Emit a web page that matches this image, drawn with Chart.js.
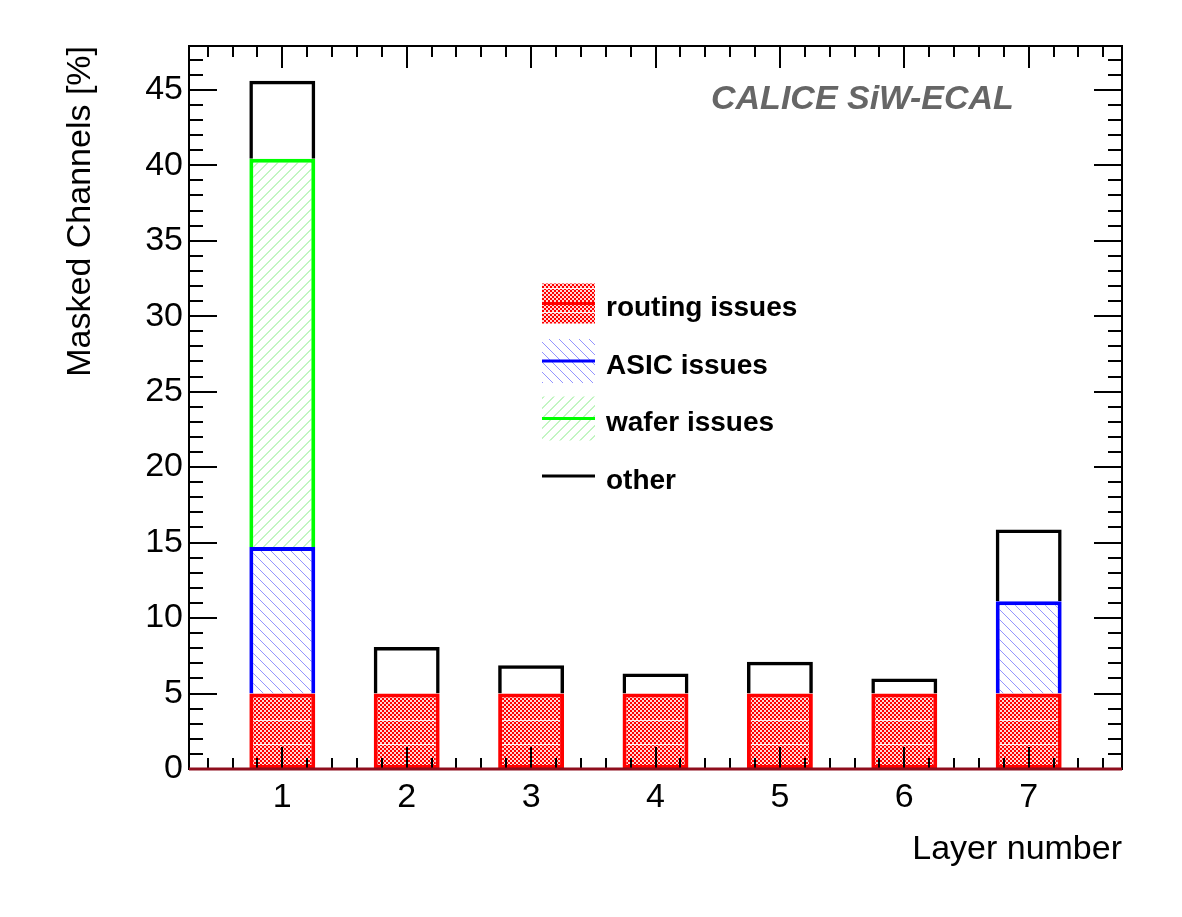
<!DOCTYPE html>
<html>
<head>
<meta charset="utf-8">
<script src="https://cdn.jsdelivr.net/npm/chart.js@4.4.0/dist/chart.umd.min.js"></script>
<style>
  html, body { margin: 0; padding: 0; background: #fff; }
  #wrap { width: 1182px; height: 917px; }
</style>
</head>
<body>
<div id="wrap"><canvas id="chartCanvas" width="1182" height="917"></canvas></div>
<script>
// values (percent of channels per layer)
const layers = [1, 2, 3, 4, 5, 6, 7];
const routingIssues = [5.0, 5.0, 5.0, 5.0, 5.0, 5.0, 5.0];
const asicIssues = [9.7, null, null, null, null, null, 6.12];
const waferIssues = [25.73, null, null, null, null, null, null];
const otherIssues = [5.17, 3.09, 1.88, 1.33, 2.1, 1.0, 4.75];
const xTickValues = [1, 2, 3, 4, 5, 6, 7];
const yTickValues = [0, 5, 10, 15, 20, 25, 30, 35, 40, 45];
const seriesNames = ["routing issues", "ASIC issues", "wafer issues", "other"];

const FONT = "'Liberation Sans', Arial, Helvetica, sans-serif";

function checkerPattern() {
  const c = document.createElement("canvas");
  c.width = 4;
  c.height = 24;
  const g = c.getContext("2d");
  g.fillStyle = "#ffd6d6";
  g.fillRect(0, 0, 4, 24);
  g.fillStyle = "#ff0000";
  for (let y = 0; y < 24; y += 2) {
    for (let x = 0; x < 4; x += 2) {
      if (((x + y) / 2) % 2 === 0) g.fillRect(x, y, 2, 2);
    }
  }
  g.fillStyle = "#fff0f0";
  g.fillRect(0, 0, 4, 1);
  return g.createPattern(c, "repeat");
}

// crisp diagonal hatch, ROOT fill styles 3004 / 3005
function hatchPattern(color, dir, thick) {
  const s = 10;
  const c = document.createElement("canvas");
  c.width = s;
  c.height = s;
  const g = c.getContext("2d");
  g.fillStyle = "#ffffff";
  g.fillRect(0, 0, s, s);
  g.fillStyle = color;
  for (let i = 0; i < s; i++) {
    const y = dir === "/" ? s - 1 - i : i;
    for (let t = 0; t < thick; t++) g.fillRect((i + t) % s, y, 1, 1);
  }
  return g.createPattern(c, "repeat");
}

const redFill = checkerPattern();
const blueFill = hatchPattern("#9494ff", "\\", 1);
const greenFill = hatchPattern("#c2f5c2", "/", 2);

const toPoints = (vals) => layers.map((l, i) => ({ x: l, y: vals[i] }));

// ROOT style frame with inward ticks on all four sides
const frameTicks = {
  id: "frameTicks",
  afterDatasetsDraw(chart) {
    const { ctx, chartArea: a, scales } = chart;
    const xs = scales.x, ys = scales.y;
    ctx.save();
    ctx.strokeStyle = "#000";
    ctx.lineWidth = 2;
    ctx.strokeRect(a.left, a.top, a.right - a.left, a.bottom - a.top);
    ctx.beginPath();
    for (let v = Math.ceil(ys.min); v <= ys.max; v++) {
      const py = Math.round(ys.getPixelForValue(v));
      const len = v % 5 === 0 ? 28 : 14;
      ctx.moveTo(a.left, py); ctx.lineTo(a.left + len, py);
      ctx.moveTo(a.right, py); ctx.lineTo(a.right - len, py);
    }
    for (let k = Math.ceil(xs.min * 5); k <= xs.max * 5; k++) {
      const px = Math.round(xs.getPixelForValue(k / 5));
      const len = k % 5 === 0 ? 22 : 11;
      ctx.moveTo(px, a.bottom); ctx.lineTo(px, a.bottom - len);
      ctx.moveTo(px, a.top); ctx.lineTo(px, a.top + len);
    }
    ctx.stroke();
    // empty bins of the red histogram run along the baseline
    ctx.strokeStyle = "#8e0d1c";
    ctx.lineWidth = 3;
    ctx.beginPath();
    const y0 = ys.getPixelForValue(0);
    ctx.moveTo(a.left, y0);
    ctx.lineTo(a.right, y0);
    ctx.stroke();
    ctx.restore();
  },
};

const legendBox = {
  id: "legendBox",
  afterDraw(chart) {
    const { ctx, chartArea: a } = chart;
    const items = [
      { fill: redFill, line: "#ff0000", h: 40 },
      { fill: blueFill, line: "#0000ff", h: 44 },
      { fill: greenFill, line: "#00ff00", h: 44 },
      { fill: null, line: "#000000", h: 0 },
    ];
    const x0 = a.left + 353, w = 53;
    ctx.save();
    items.forEach((it, i) => {
      const cy = a.top + 257.5 + i * 57.5;
      if (it.fill) {
        ctx.fillStyle = it.fill;
        ctx.fillRect(x0, cy - it.h / 2, w, it.h);
      }
      ctx.strokeStyle = it.line;
      ctx.lineWidth = 3;
      ctx.beginPath();
      ctx.moveTo(x0, cy);
      ctx.lineTo(x0 + w, cy);
      ctx.stroke();
      ctx.fillStyle = "#000";
      ctx.font = "bold 28px " + FONT;
      ctx.textAlign = "left";
      ctx.textBaseline = "alphabetic";
      ctx.fillText(seriesNames[i], x0 + 64, cy + 12.5);
    });
    ctx.fillStyle = "#666666";
    ctx.font = "italic bold 34px " + FONT;
    ctx.fillText("CALICE SiW-ECAL", a.left + 522, a.top + 63);
    ctx.restore();
  },
};

const ctx = document.getElementById("chartCanvas").getContext("2d");
new Chart(ctx, {
  type: "bar",
  data: {
    datasets: [
      {
        label: seriesNames[0],
        data: toPoints(routingIssues),
        backgroundColor: redFill,
        borderColor: "#ff0000",
        borderWidth: 4,
        borderSkipped: false,
      },
      {
        label: seriesNames[1],
        data: toPoints(asicIssues),
        backgroundColor: blueFill,
        borderColor: "#0000ff",
        borderWidth: 4,
        borderSkipped: "start",
      },
      {
        label: seriesNames[2],
        data: toPoints(waferIssues),
        backgroundColor: greenFill,
        borderColor: "#00ff00",
        borderWidth: 4,
        borderSkipped: "start",
      },
      {
        label: seriesNames[3],
        data: toPoints(otherIssues),
        backgroundColor: "rgba(255,255,255,0)",
        borderColor: "#000000",
        borderWidth: 3.5,
        borderSkipped: "start",
      },
    ],
  },
  options: {
    responsive: false,
    animation: false,
    devicePixelRatio: 1,
    layout: { padding: { left: 0, top: 46, right: 60, bottom: 0 } },
    datasets: { bar: { barPercentage: 0.53, categoryPercentage: 1 } },
    plugins: {
      legend: { display: false },
      tooltip: { enabled: false },
    },
    scales: {
      x: {
        type: "linear",
        stacked: true,
        offset: false,
        min: 0.25,
        max: 7.75,
        afterBuildTicks: (scale) => {
          scale.ticks = xTickValues.map((v) => ({ value: v }));
        },
        afterFit: (scale) => {
          scale.height = 148;
        },
        grid: { display: false, drawTicks: false },
        border: { display: false },
        ticks: {
          color: "#000",
          font: { family: FONT, size: 34 },
          padding: 8,
          maxRotation: 0,
          autoSkip: false,
        },
        title: {
          display: true,
          text: "Layer number",
          align: "end",
          color: "#000",
          font: { family: FONT, size: 34 },
          padding: { top: 0, bottom: 47 },
        },
      },
      y: {
        stacked: true,
        min: 0,
        max: 47.9,
        afterBuildTicks: (scale) => {
          scale.ticks = yTickValues.map((v) => ({ value: v }));
        },
        afterFit: (scale) => {
          scale.width = 189;
        },
        grid: { display: false, drawTicks: false },
        border: { display: false },
        ticks: {
          color: "#000",
          font: { family: FONT, size: 34 },
          padding: 6,
          autoSkip: false,
        },
        title: {
          display: true,
          text: "Masked Channels [%]",
          align: "end",
          color: "#000",
          font: { family: FONT, size: 34 },
          padding: { top: 60, bottom: 0 },
        },
      },
    },
  },
  plugins: [frameTicks, legendBox],
});
</script>
</body>
</html>
